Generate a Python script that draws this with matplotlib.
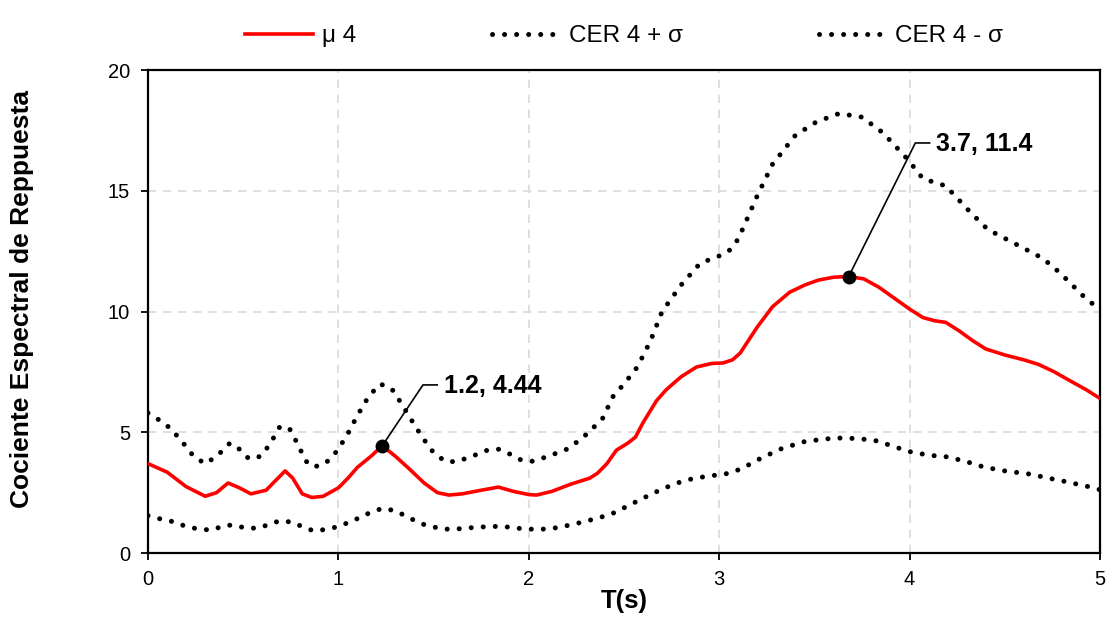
import matplotlib
matplotlib.use('Agg')
import matplotlib.pyplot as plt
import numpy as np

plt.rcParams['font.family'] = ['Liberation Sans', 'DejaVu Sans']

# mu 4 (red)
t_mean = [0.0, 0.1, 0.2, 0.3, 0.36, 0.42, 0.48, 0.54, 0.62, 0.67, 0.72, 0.76, 0.81, 0.86,
          0.92, 1.0, 1.05, 1.1, 1.17, 1.23, 1.3, 1.37, 1.45, 1.52, 1.58, 1.65, 1.75, 1.84,
          1.92, 2.0, 2.04, 2.12, 2.22, 2.32, 2.36, 2.41, 2.46, 2.52, 2.56, 2.6, 2.67, 2.72,
          2.8, 2.88, 2.96, 3.02, 3.07, 3.11, 3.2, 3.28, 3.37, 3.45, 3.52, 3.6, 3.68, 3.76,
          3.84, 3.92, 4.0, 4.07, 4.13, 4.19, 4.26, 4.33, 4.4, 4.5, 4.6, 4.68, 4.76, 4.85,
          4.93, 5.0]
mean = [3.7, 3.35, 2.75, 2.35, 2.5, 2.9, 2.7, 2.45, 2.6, 3.0, 3.4, 3.1, 2.45, 2.3,
        2.35, 2.7, 3.1, 3.55, 4.0, 4.44, 4.0, 3.5, 2.9, 2.5, 2.4, 2.45, 2.6, 2.73,
        2.55, 2.42, 2.4, 2.55, 2.85, 3.1, 3.3, 3.7, 4.26, 4.55, 4.8, 5.4, 6.3, 6.75,
        7.3, 7.7, 7.85, 7.87, 8.0, 8.28, 9.36, 10.2, 10.8, 11.1, 11.3, 11.42, 11.45, 11.35,
        11.0, 10.55, 10.1, 9.75, 9.62, 9.55, 9.2, 8.8, 8.45, 8.2, 8.0, 7.8, 7.5, 7.1,
        6.75, 6.4]

# CER 4 + sigma
t_upper = [0.0, 0.06, 0.12, 0.18, 0.24, 0.3, 0.36, 0.43, 0.48, 0.53, 0.59, 0.64, 0.69, 0.74,
           0.78, 0.83, 0.87, 0.93, 0.98, 1.04, 1.1, 1.16, 1.22, 1.28, 1.33, 1.38, 1.44, 1.5,
           1.56, 1.62, 1.7, 1.78, 1.84, 1.9, 1.96, 2.02, 2.1, 2.2, 2.28, 2.34, 2.39, 2.44,
           2.5, 2.57, 2.64, 2.7, 2.8, 2.9, 3.0, 3.05, 3.1, 3.15, 3.2, 3.28, 3.4, 3.51,
           3.63, 3.75, 3.86, 3.99, 4.07, 4.19, 4.32, 4.41, 4.58, 4.7, 4.79, 4.93, 5.0]
upper = [5.8, 5.5, 5.15, 4.6, 4.0, 3.7, 4.0, 4.55, 4.3, 3.9, 4.0, 4.5, 5.2, 5.2,
         4.6, 3.8, 3.56, 3.7, 4.1, 4.8, 5.7, 6.5, 7.0, 6.8, 6.2, 5.55, 4.8, 4.15,
         3.8, 3.78, 4.0, 4.25, 4.3, 4.1, 3.85, 3.8, 4.0, 4.3, 4.75, 5.2, 5.6, 6.46,
         7.0, 7.7, 8.8, 10.0, 11.1, 12.0, 12.3, 12.5, 13.0, 13.9, 14.8, 16.1, 17.3, 17.85,
         18.2, 18.05, 17.4, 16.3, 15.5, 15.2, 14.1, 13.4, 12.7, 12.2, 11.6, 10.5, 10.1]

# CER 4 - sigma
t_lower = [0.0, 0.07, 0.13, 0.2, 0.26, 0.33, 0.41, 0.46, 0.51, 0.58, 0.64, 0.69, 0.76, 0.82,
           0.87, 0.94, 1.0, 1.08, 1.16, 1.23, 1.3, 1.36, 1.44, 1.54, 1.6, 1.7, 1.8, 1.86,
           1.95, 2.05, 2.15, 2.24, 2.34, 2.43, 2.52, 2.6, 2.7, 2.78, 2.87, 2.96, 3.05, 3.12,
           3.2, 3.32, 3.44, 3.55, 3.63, 3.73, 3.83, 3.92, 4.0, 4.1, 4.2, 4.3, 4.39, 4.5,
           4.63, 4.73, 4.83, 4.95, 5.0]
lower = [1.55, 1.4, 1.3, 1.1, 1.0, 0.95, 1.15, 1.15, 1.03, 1.03, 1.2, 1.33, 1.28, 1.05,
         0.92, 0.98, 1.1, 1.35, 1.65, 1.85, 1.75, 1.5, 1.2, 1.0, 0.98, 1.05, 1.1, 1.1,
         1.02, 0.97, 1.05, 1.2, 1.4, 1.6, 1.95, 2.27, 2.65, 2.9, 3.1, 3.2, 3.3, 3.5,
         3.85, 4.3, 4.6, 4.72, 4.76, 4.74, 4.64, 4.4, 4.2, 4.05, 3.98, 3.78, 3.56, 3.4,
         3.27, 3.1, 2.94, 2.73, 2.62]

# annotated points on mu 4
ann_t = [1.23, 3.68]
ann_labels = ['1.2, 4.44', '3.7, 11.4']

fig = plt.figure(figsize=(11.08, 6.17), dpi=100)
ax = fig.add_axes([0.1336, 0.1037, 0.8592, 0.7828])

dots = (0, (0.01, 2.4))
ax.plot(t_mean, mean, color='#ff0000', lw=2.6, label='μ 4', zorder=3)
ax.plot(t_upper, upper, color='black', lw=3.6, ls=dots, dash_capstyle='round',
        label='CER 4 + σ', zorder=2)
ax.plot(t_lower, lower, color='black', lw=3.6, ls=dots, dash_capstyle='round',
        label='CER 4 - σ', zorder=2)

# leader lines (elbow offsets in data units) and labels
offsets = [(0.214, 2.52), (0.35, 5.53)]
for tt, lab, (dx, dy) in zip(ann_t, ann_labels, offsets):
    i = int(np.argmin(np.abs(np.array(t_mean) - tt)))
    px, py = t_mean[i], mean[i]
    ax.plot([px, px + dx, px + dx + 0.075], [py, py + dy, py + dy], color='black', lw=1.2, zorder=4)
    ax.plot(px, py, 'o', color='black', ms=9, zorder=5)
    ax.text(px + dx + 0.11, py + dy - 0.05, lab, fontsize=18, fontweight='bold',
            ha='left', va='center', zorder=5)

ax.set_xlim(0, 5)
ax.set_ylim(0, 20)
ax.set_xticks([0, 1, 2, 3, 4, 5])
ax.set_yticks([0, 5, 10, 15, 20])
ax.tick_params(direction='out', length=5, width=1.3, labelsize=14.5)
ax.tick_params(axis='x', pad=7)
ax.tick_params(axis='y', pad=8)
ax.grid(True, color='#d9d9d9', ls=(0, (5, 4)), lw=1.2)
ax.set_axisbelow(True)
for s in ax.spines.values():
    s.set_linewidth(1.6)
    s.set_color('black')

ax.set_xlabel('T(s)', fontsize=18.5, fontweight='bold', labelpad=0)
fig.text(22 / 1108, 1 - 299 / 617, 'Cociente Espectral de Reppuesta', rotation=90,
         fontsize=19, fontweight='bold', ha='center', va='center')

ax.legend(loc='center', bbox_to_anchor=(0.5, 1.07), ncol=3, frameon=False, fontsize=17.5,
          handlelength=2.8, handletextpad=0.35, columnspacing=5.6)

fig.savefig('out.png', dpi=100)
